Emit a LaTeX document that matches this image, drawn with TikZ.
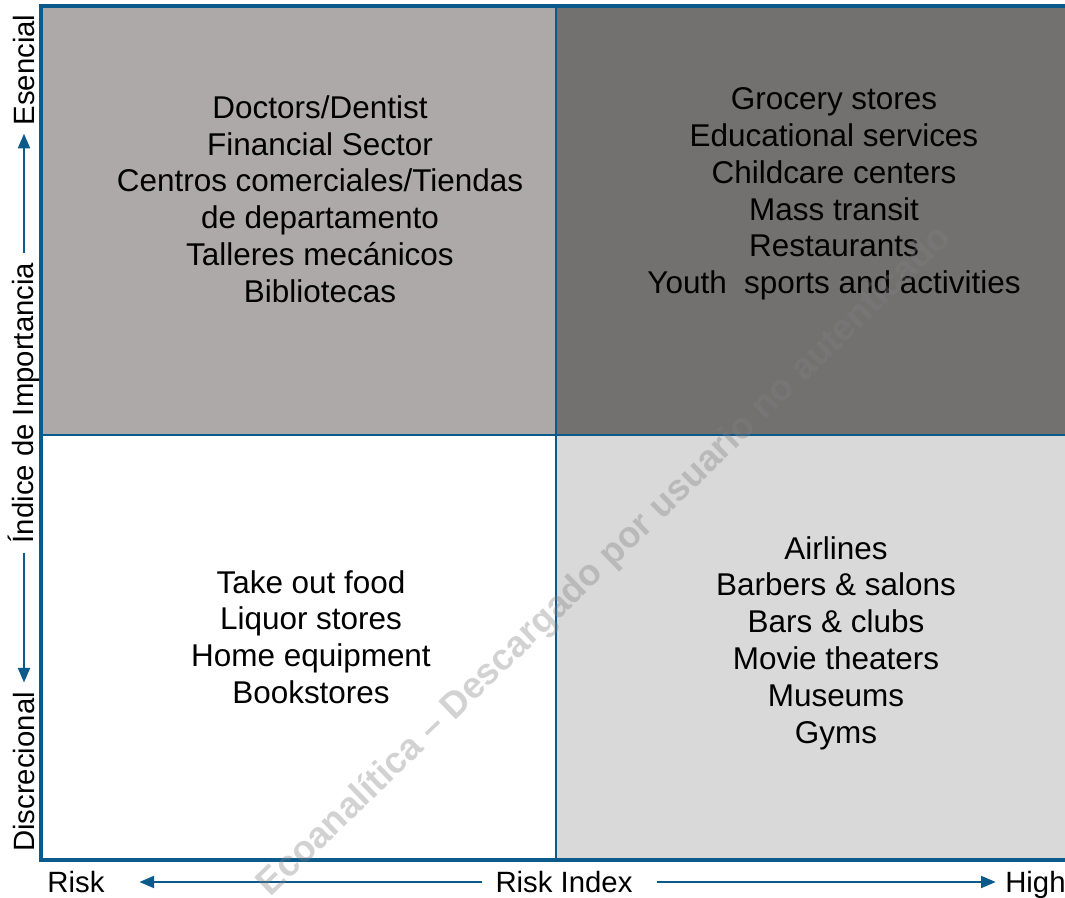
\documentclass[tikz,border=0pt]{standalone}
\usepackage{fontspec}
\setmainfont{Liberation Sans}
\usepackage{xcolor}
\usetikzlibrary{arrows.meta, positioning}
\definecolor{axisblue}{HTML}{0A5A8C}
\definecolor{essgray}{HTML}{ACA9A8}
\definecolor{critgray}{HTML}{737070}
\definecolor{riskgray}{HTML}{D9D9D9}
\tikzset{
  quadtext/.style={align=center, font=\fontsize{23.6}{27.6}\selectfont},
  axislabel/.style={inner sep=0pt, font=\fontsize{22}{22}\selectfont},
  axisarrow/.style={axisblue, line width=1.5pt, -{Triangle[length=11pt, width=9pt]}},
}

\begin{document}
\begin{tikzpicture}[x=0.75pt, y=0.75pt]
  \useasboundingbox (0,0) rectangle (1065,-898);
  \fill[white] (0,0) rectangle (1065,-898);

  % Quadrant backgrounds
  \fill[essgray] (41,-6) rectangle (556,-435);
  \fill[critgray] (556,-6) rectangle (1065,-435);
  \fill[riskgray] (556,-435) rectangle (1065,-860);
  % Dividers and frame
  \draw[axisblue, line width=1.9pt] (41,-435) -- (1065,-435);
  \draw[axisblue, line width=1.9pt] (556,-6) -- (556,-860);
  \draw[axisblue, line width=3pt] (1065,-6) -- (41,-6) -- (41,-860) -- (1065,-860);

  % Quadrant contents
  \node[quadtext] (essLow) at (320,-199) {Doctors/Dentist\\Financial Sector\\Centros comerciales/Tiendas\\de departamento\\Talleres mecánicos\\Bibliotecas};
  \node[quadtext] (essHigh) at (834,-194) {Grocery stores\\Educational services\\Childcare centers\\Mass transit\\Restaurants\\Youth\ \ sports and activities};
  \node[quadtext] (discLow) at (311,-637) {Take out food\\Liquor stores\\Home equipment\\Bookstores};
  \node[quadtext] (discHigh) at (836,-643) {Airlines\\Barbers \& salons\\Bars \& clubs\\Movie theaters\\Museums\\Gyms};

  % Vertical axis
  \node[axislabel, rotate=90] (esencial) at (24,-70) {Esencial};
  \node[axislabel, rotate=90] (indice) at (24,-403) {Índice de Importancia};
  \node[axislabel, rotate=90] (discrec) at (24,-772) {Discrecional};
  \draw[axisarrow, shorten <=7pt, shorten >=6pt] (indice.east) -- (esencial.west);
  \draw[axisarrow, shorten <=7pt, shorten >=7pt] (indice.west) -- (discrec.east);

  % Horizontal axis
  \node[axislabel] (risklow) at (76,-882) {Risk};
  \node[axislabel] (riskidx) at (564,-882) {Risk Index};
  \node[axislabel, anchor=base west] (riskhigh) at (1005,-892.5) {High};
  \draw[axisarrow, shorten <=10pt, shorten >=26pt] (riskidx.west) -- (riskidx.west -| risklow.east);
  \draw[axisarrow, shorten <=18pt, shorten >=7pt] (riskidx.east) -- (riskidx.east -| riskhigh.west);

  % Watermark
  \node[gray, opacity=0.35, rotate=44, font=\fontsize{27.5}{27.5}\selectfont\bfseries] (mark) at (605,-562) {Ecoanalítica -- Descargado por usuario no autenticado};
\end{tikzpicture}
\end{document}
